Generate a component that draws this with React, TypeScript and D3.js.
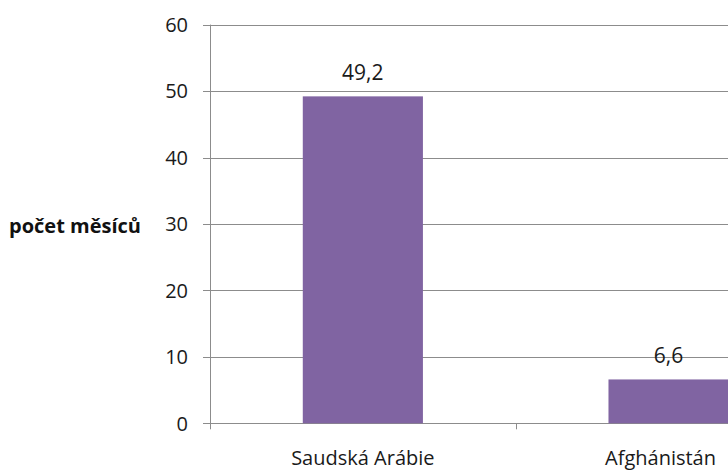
import React, { useLayoutEffect, useRef, useState } from "react";
import * as d3 from "d3";

// Průměrná délka pobytu podle země
const categories = ["Saudská Arábie", "Afghánistán"];
const values = [49.2, 6.6];
const valueLabels = ["49,2", "6,6"];
const yTicks = [0, 10, 20, 30, 40, 50, 60];
const yTitle = "počet měsíců";

const W = 728;
const H = 471;
const FONT = "'Open Sans', 'DejaVu Sans', sans-serif";
const LABEL_EDGE = W - 12; // category labels are kept inside this edge

export default function App() {
  const plotLeft = 210;
  const bandW = 305.7;
  const x = d3
    .scaleBand<string>()
    .domain(categories)
    .range([plotLeft, plotLeft + bandW * categories.length])
    .paddingInner(0.607)
    .paddingOuter(0.3035);
  const y = d3.scaleLinear().domain([0, 60]).range([423.3, 24.6]);
  const gridRight = W;

  const labelRefs = useRef<(SVGTextElement | null)[]>([]);
  const [shifts, setShifts] = useState<number[]>(categories.map(() => 0));

  useLayoutEffect(() => {
    const next = categories.map((c, i) => {
      const el = labelRefs.current[i];
      if (!el) return 0;
      const w = el.getComputedTextLength();
      const cx = (x(c) as number) + x.bandwidth() / 2;
      const over = cx + w / 2 - LABEL_EDGE;
      return over > 0 ? -over : 0;
    });
    setShifts(next);
  }, []);

  return (
    <svg
      width={W}
      height={H}
      style={{ position: "absolute", left: 0, top: 0, background: "#fff" }}
      fontFamily={FONT}
    >
      {/* horizontal gridlines and y ticks */}
      {yTicks.map((t) => (
        <g key={t}>
          <line
            x1={plotLeft - 7}
            x2={gridRight}
            y1={Math.round(y(t)) + 0.5}
            y2={Math.round(y(t)) + 0.5}
            stroke="#8c8c8c"
            strokeWidth={1}
          />
          <text
            x={188}
            y={y(t)}
            dy="0.36em"
            textAnchor="end"
            fontSize={20}
            fill="#1a1a1a"
          >
            {t}
          </text>
        </g>
      ))}
      {/* y axis line */}
      <line
        x1={plotLeft + 0.5}
        x2={plotLeft + 0.5}
        y1={y(60)}
        y2={y(0) + 6}
        stroke="#8c8c8c"
      />
      {/* category boundary ticks */}
      {categories.map((c, i) => (
        <line
          key={c}
          x1={Math.round(plotLeft + bandW * (i + 1)) + 0.5}
          x2={Math.round(plotLeft + bandW * (i + 1)) + 0.5}
          y1={y(0)}
          y2={y(0) + 6}
          stroke="#8c8c8c"
        />
      ))}
      {/* bars */}
      {categories.map((c, i) => (
        <rect
          key={c}
          x={x(c)}
          y={y(values[i])}
          width={x.bandwidth()}
          height={y(0) - y(values[i])}
          fill="#8064a2"
        />
      ))}
      {/* value labels */}
      {categories.map((c, i) => (
        <text
          key={c}
          x={(x(c) as number) + x.bandwidth() / 2}
          y={y(values[i]) - 16.5}
          textAnchor="middle"
          fontSize={21}
          fill="#1a1a1a"
        >
          {valueLabels[i]}
        </text>
      ))}
      {/* category labels */}
      {categories.map((c, i) => (
        <text
          key={c}
          ref={(el) => {
            labelRefs.current[i] = el;
          }}
          x={(x(c) as number) + x.bandwidth() / 2 + shifts[i]}
          y={465}
          textAnchor="middle"
          fontSize={20}
          fill="#1a1a1a"
        >
          {c}
        </text>
      ))}
      {/* y axis title */}
      <text x={9} y={233} fontSize={20} fontWeight="bold" fill="#111">
        {yTitle}
      </text>
    </svg>
  );
}
